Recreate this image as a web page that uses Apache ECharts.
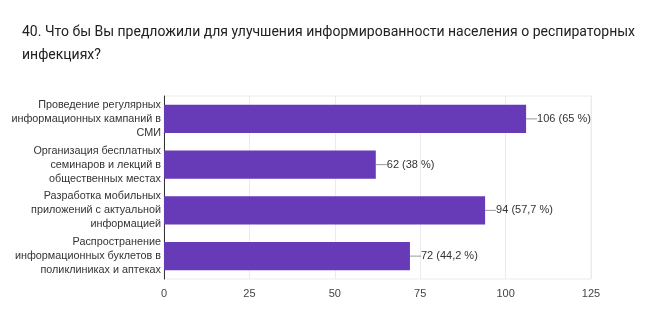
<!DOCTYPE html>
<html>
<head>
<meta charset="utf-8">
<script src="https://cdn.jsdelivr.net/npm/echarts@6/dist/echarts.min.js"></script>
<style>
  html, body { margin: 0; padding: 0; background: #fff; }
  #chart { width: 657px; height: 333px; }
</style>
</head>
<body>
<div id="chart"></div>
<script>
// Answer options (top to bottom) and response counts
const categories = [
  'Проведение регулярных\nинформационных кампаний в\nСМИ',
  'Организация бесплатных\nсеминаров и лекций в\nобщественных местах',
  'Разработка мобильных\nприложений с актуальной\nинформацией',
  'Распространение\nинформационных буклетов в\nполиклиниках и аптеках'
];
const counts = [106, 62, 94, 72];
const percents = ['65', '38', '57,7', '44,2'];
const xTicks = [0, 25, 50, 75, 100, 125];

const chart = echarts.init(document.getElementById('chart'));
chart.setOption({
  animation: false,
  title: {
    text: '40. Что бы Вы предложили для улучшения информированности населения о респираторных\nинфекциях?',
    left: 22,
    top: 21,
    padding: 0,
    textStyle: {
      fontFamily: 'Roboto',
      fontSize: 14,
      fontWeight: 'normal',
      color: '#202124',
      lineHeight: 23
    }
  },
  grid: {
    left: 164, right: 66, top: 96, bottom: 54,
    show: true, borderColor: '#ebebeb', borderWidth: 1
  },
  xAxis: {
    type: 'value',
    min: xTicks[0],
    max: xTicks[xTicks.length - 1],
    interval: 25,
    axisLine: { show: false },
    axisTick: { show: false },
    axisLabel: { color: '#444', fontFamily: 'Liberation Sans', fontSize: 11, margin: 9 },
    splitLine: { show: true, lineStyle: { color: '#ebebeb', width: 1 } }
  },
  yAxis: {
    type: 'category',
    inverse: true,
    data: categories,
    axisLine: { show: true, lineStyle: { color: '#333', width: 1 } },
    axisTick: { show: false },
    splitLine: { show: false },
    axisLabel: {
      color: '#333',
      fontFamily: 'Liberation Sans',
      fontSize: 10.8,
      lineHeight: 14,
      align: 'right',
      margin: 3
    }
  },
  series: [{
    type: 'bar',
    data: counts,
    barWidth: '62%',
    itemStyle: { color: '#673ab7' },
    label: {
      show: true,
      position: 'right',
      distance: 0,
      color: '#333',
      fontFamily: 'Liberation Sans',
      fontSize: 11,
      formatter: p => p.value + ' (' + percents[p.dataIndex] + ' %)'
    },
    labelLayout: { dx: 11 },
    labelLine: { show: true, lineStyle: { color: '#999', width: 1 } }
  }]
});
</script>
</body>
</html>
